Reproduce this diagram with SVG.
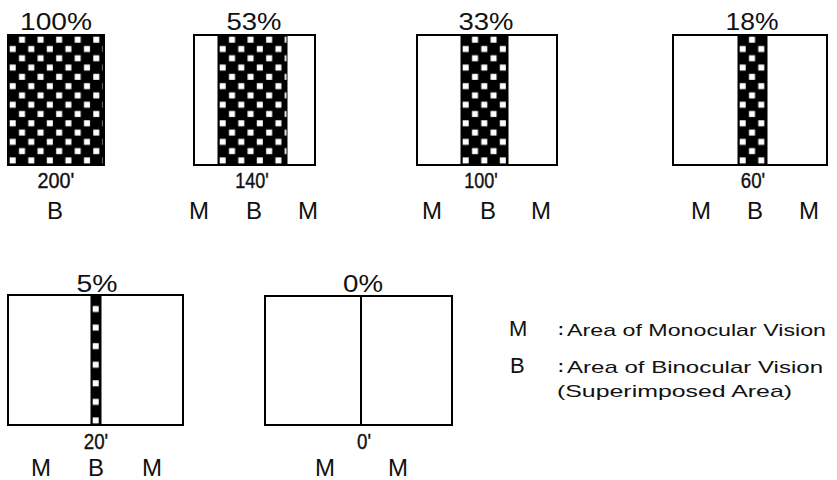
<svg xmlns="http://www.w3.org/2000/svg" width="837" height="480" viewBox="0 0 837 480">
<style>
  .frame{fill:#fff;stroke:#000;stroke-width:2}
  .pct{font-family:"Liberation Sans",Arial,sans-serif;font-size:23px;fill:#111;text-anchor:middle}
  .ang{font-family:"Liberation Sans",Arial,sans-serif;font-size:22px;fill:#111;stroke:#111;stroke-width:0.4;text-anchor:middle}
  .lab{font-family:"Liberation Sans",Arial,sans-serif;font-size:24px;fill:#111;text-anchor:middle}
  .key{font-family:"Liberation Sans",Arial,sans-serif;font-size:22px;fill:#111}
  .leg{font-family:"Liberation Sans",Arial,sans-serif;font-size:17px;fill:#111}
  .band{stroke:#000;stroke-width:1}
</style>
<defs>
  <pattern id="chk1" patternUnits="userSpaceOnUse" x="8" y="35" width="18.571" height="18.571">
    <rect width="18.571" height="18.571" fill="#000"/>
    <rect x="11" y="1.7" width="6" height="6" fill="#fff"/>
    <rect x="1.7" y="11" width="6" height="6" fill="#fff"/>
  </pattern>
  <pattern id="chk2" href="#chk1" x="218"/>
  <pattern id="chk3" href="#chk1" x="461"/>
  <pattern id="chk4" href="#chk1" x="738"/>
  <pattern id="chk5" href="#chk1" x="91" y="295"/>
</defs>

<g id="panel-100">
  <text class="pct" x="56" y="30" textLength="72" lengthAdjust="spacingAndGlyphs">100%</text>
  <rect x="8" y="35" width="96" height="130" fill="url(#chk1)" stroke="#000" stroke-width="2"/>
  <text class="ang" transform="translate(56 188) scale(0.9 1)">200'</text>
  <text class="lab" x="55" y="219">B</text>
</g>

<g id="panel-53">
  <text class="pct" x="254" y="30" textLength="55" lengthAdjust="spacingAndGlyphs">53%</text>
  <rect class="frame" x="194" y="35" width="121" height="130"/>
  <rect x="218" y="35" width="69" height="130" fill="url(#chk2)" class="band"/>
  <text class="ang" transform="translate(252 188) scale(0.82 1)">140'</text>
  <text class="lab" x="199" y="219">M</text>
  <text class="lab" x="254" y="219">B</text>
  <text class="lab" x="308" y="219">M</text>
</g>

<g id="panel-33">
  <text class="pct" x="486" y="30" textLength="55" lengthAdjust="spacingAndGlyphs">33%</text>
  <rect class="frame" x="417" y="35" width="140" height="130"/>
  <rect x="461" y="35" width="47" height="130" fill="url(#chk3)" class="band"/>
  <text class="ang" transform="translate(481 188) scale(0.82 1)">100'</text>
  <text class="lab" x="432" y="219">M</text>
  <text class="lab" x="488" y="219">B</text>
  <text class="lab" x="541" y="219">M</text>
</g>

<g id="panel-18">
  <text class="pct" x="752" y="30" textLength="53" lengthAdjust="spacingAndGlyphs">18%</text>
  <rect class="frame" x="673" y="35" width="154" height="130"/>
  <rect x="738" y="35" width="29" height="130" fill="url(#chk4)" class="band"/>
  <text class="ang" transform="translate(753 188) scale(0.85 1)">60'</text>
  <text class="lab" x="701" y="219">M</text>
  <text class="lab" x="755" y="219">B</text>
  <text class="lab" x="809" y="219">M</text>
</g>

<g id="panel-5">
  <text class="pct" x="97" y="292" textLength="41" lengthAdjust="spacingAndGlyphs">5%</text>
  <rect class="frame" x="8" y="295" width="175" height="130"/>
  <rect x="91" y="295" width="10" height="130" fill="url(#chk5)" class="band"/>
  <text class="ang" transform="translate(96 449) scale(0.85 1)">20'</text>
  <text class="lab" x="41" y="476">M</text>
  <text class="lab" x="96" y="476">B</text>
  <text class="lab" x="152" y="476">M</text>
</g>

<g id="panel-0">
  <text class="pct" x="363" y="292" textLength="40" lengthAdjust="spacingAndGlyphs">0%</text>
  <rect class="frame" x="265" y="296" width="187" height="129"/>
  <line x1="361" y1="296" x2="361" y2="425" stroke="#000" stroke-width="2"/>
  <text class="ang" transform="translate(364 449) scale(0.85 1)">0'</text>
  <text class="lab" x="325" y="476">M</text>
  <text class="lab" x="398" y="476">M</text>
</g>

<g id="legend">
  <text class="key" x="509" y="336">M</text>
  <text class="leg" x="558" y="335" font-weight="bold">:</text>
  <text class="leg" x="567" y="336" textLength="259" lengthAdjust="spacingAndGlyphs">Area of Monocular Vision</text>
  <text class="key" x="510" y="373">B</text>
  <text class="leg" x="558" y="372" font-weight="bold">:</text>
  <text class="leg" x="567" y="373" textLength="256" lengthAdjust="spacingAndGlyphs">Area of Binocular Vision</text>
  <text class="leg" x="557" y="397" textLength="235" lengthAdjust="spacingAndGlyphs">(Superimposed Area)</text>
</g>
</svg>
